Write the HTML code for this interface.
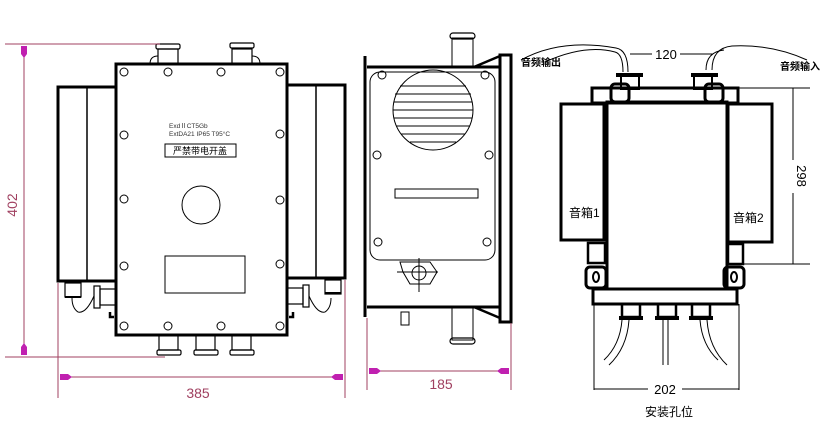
<!DOCTYPE html>
<html><head><meta charset="utf-8"><style>
html,body{margin:0;padding:0;background:#fff;width:828px;height:424px;overflow:hidden}
text{font-family:"Liberation Sans","Noto Sans CJK SC",sans-serif}
</style></head><body>
<svg width="828" height="424" viewBox="0 0 828 424" xmlns="http://www.w3.org/2000/svg">
<g fill="none" stroke="#000">
<!-- FRONT VIEW -->
<rect x="158" y="49" width="20" height="15" stroke-width="1.2"/><rect x="156" y="44" width="24" height="5" rx="1.5" stroke-width="1.2"/>
<path d="M158,56 q-8,0 -8,8" stroke-width="1"/>
<rect x="232" y="49" width="20" height="15" stroke-width="1.2"/><rect x="230" y="43" width="24" height="5" rx="1.5" stroke-width="1.2"/>
<path d="M252,56 q8,0 8,8" stroke-width="1"/>
<rect x="58" y="87" width="58" height="194" stroke-width="3"/><line x1="87" y1="87" x2="87" y2="281" stroke-width="1.5"/>
<rect x="287" y="85" width="58" height="193" stroke-width="3"/><line x1="316" y1="85" x2="316" y2="278" stroke-width="1.5"/>
<rect x="65" y="283" width="16" height="14" stroke-width="1.2"/><line x1="65" y1="297" x2="81" y2="297" stroke-width="2"/>
<rect x="325" y="280" width="16" height="14" stroke-width="1.2"/><line x1="325" y1="293" x2="341" y2="293" stroke-width="2"/>
<rect x="100" y="289" width="16" height="16" stroke-width="1.2"/><rect x="94" y="286" width="6" height="22" stroke-width="1.2"/>
<path d="M94,296 q-8,18 -16,16 q-6,-4 -6,-14" stroke-width="1"/>
<rect x="287" y="288" width="16" height="16" stroke-width="1.2"/><rect x="303" y="285" width="6" height="22" stroke-width="1.2"/>
<path d="M309,296 q8,18 16,16 q6,-4 6,-14" stroke-width="1"/>
<path d="M110,312 v5 h4" stroke-width="2.5"/><path d="M293,312 v5 h-4" stroke-width="2.5"/>
<rect x="116" y="64" width="171" height="271" stroke-width="3"/>
<g stroke-width="1">
<circle cx="124" cy="72" r="4"/><circle cx="168" cy="72" r="4"/><circle cx="221" cy="72" r="4"/><circle cx="280" cy="72" r="4"/>
<circle cx="124" cy="135" r="4"/><circle cx="280" cy="134" r="4"/>
<circle cx="124" cy="199" r="4"/><circle cx="280" cy="200" r="4"/>
<circle cx="124" cy="266" r="4"/><circle cx="280" cy="264" r="4"/>
<circle cx="124" cy="326" r="4"/><circle cx="168" cy="326" r="4"/><circle cx="221" cy="326" r="4"/><circle cx="280" cy="326" r="4"/>
<circle cx="201" cy="205" r="19"/>
<rect x="165" y="256" width="80" height="37"/>
<rect x="165" y="144" width="71" height="13"/>
</g>
<g stroke-width="1.2">
<rect x="159" y="335" width="19" height="15"/><rect x="157" y="350" width="24" height="5" rx="1.5"/>
<rect x="196" y="335" width="19" height="15"/><rect x="194" y="350" width="24" height="5" rx="1.5"/>
<rect x="232" y="335" width="19" height="15"/><rect x="230" y="350" width="24" height="5" rx="1.5"/>
</g>

<!-- SIDE VIEW -->
<rect x="452" y="38" width="21" height="29" stroke-width="1"/><rect x="450" y="33" width="25" height="6" rx="3" stroke-width="1.2"/>
<rect x="452" y="307" width="21" height="33" stroke-width="1"/><rect x="450" y="338" width="25" height="6" rx="3" stroke-width="1.2"/>
<line x1="365" y1="56" x2="365" y2="317" stroke-width="3"/>
<line x1="367" y1="67" x2="500" y2="67" stroke-width="3"/>
<line x1="367" y1="307" x2="500" y2="307" stroke-width="3"/>
<path d="M474,67 L500,56 M474,307 L500,318" stroke-width="2.5"/>
<rect x="500" y="55" width="11" height="267" stroke-width="3"/>
<rect x="370" y="72" width="125" height="188" rx="10" stroke-width="1"/>
<g stroke-width="1">
<circle cx="382" cy="75" r="4"/><circle cx="485" cy="75" r="4"/><circle cx="377" cy="155" r="4"/><circle cx="489" cy="155" r="4"/><circle cx="378" cy="242" r="4"/><circle cx="487" cy="242" r="4"/>
<circle cx="433" cy="110" r="40"/>
<line x1="400" y1="86" x2="466" y2="86"/><line x1="395" y1="94" x2="471" y2="94"/><line x1="394" y1="102" x2="472" y2="102"/><line x1="393" y1="110" x2="473" y2="110"/><line x1="394" y1="118" x2="472" y2="118"/><line x1="396" y1="126" x2="470" y2="126"/><line x1="401" y1="134" x2="465" y2="134"/><line x1="410" y1="142" x2="456" y2="142"/>
<rect x="395" y="189" width="83" height="9"/>
<path d="M400,262 h30 l7,10 l-7,12 h-20 l-7,-12 z"/><circle cx="419" cy="273" r="7"/>
<line x1="397" y1="272" x2="438" y2="272"/><line x1="419" y1="258" x2="419" y2="292"/>
<rect x="401" y="312" width="8" height="13"/>
</g>

<!-- RIGHT VIEW -->
<g stroke-width="1">
<path d="M521,60 q40,-22 95,-12 q12,2 12,24"/><path d="M545,62 q40,-18 70,-10 q8,2 8,20"/>
<path d="M712,70 q0,-22 20,-24 q40,-2 75,14"/><path d="M706,70 q0,-18 18,-20"/>
<path d="M622,320 q-2,25 -18,40"/><path d="M629,320 q-2,28 -20,45"/>
<line x1="663" y1="320" x2="663" y2="365"/><line x1="668" y1="320" x2="668" y2="365"/>
<path d="M700,320 q2,25 18,40"/><path d="M707,320 q2,28 20,45"/>
</g>
<g stroke-width="3">
<rect x="592" y="88" width="146" height="15"/>
<rect x="561" y="104" width="43" height="136"/>
<rect x="728" y="104" width="44" height="138"/>
<rect x="607" y="102" width="120" height="187"/>
<rect x="593" y="289" width="144" height="15"/>
<rect x="611" y="84" width="18" height="18" rx="4"/><rect x="705" y="84" width="18" height="18" rx="4"/>
<rect x="621" y="75" width="18" height="14" stroke-width="2"/><rect x="694" y="75" width="18" height="14" stroke-width="2"/>
<line x1="616" y1="75" x2="643" y2="75" stroke-width="4"/><line x1="691" y1="75" x2="718" y2="75" stroke-width="4"/>
<rect x="586" y="267" width="20" height="21" rx="4"/><rect x="724" y="267" width="20" height="21" rx="4"/>
<rect x="588" y="243" width="17" height="20" stroke-width="2.5"/><rect x="728" y="244" width="15" height="20" stroke-width="2.5"/>
<rect x="622" y="304" width="18" height="13" stroke-width="2.5"/><rect x="658" y="304" width="18" height="13" stroke-width="2.5"/><rect x="692" y="304" width="18" height="13" stroke-width="2.5"/>
<line x1="619" y1="318" x2="643" y2="318" stroke-width="4"/><line x1="655" y1="318" x2="679" y2="318" stroke-width="4"/><line x1="689" y1="318" x2="713" y2="318" stroke-width="4"/>
</g>
<ellipse cx="596" cy="277" rx="3" ry="5" stroke-width="2"/><ellipse cx="734" cy="277" rx="3" ry="5" stroke-width="2"/>
<g stroke-width="1">
<line x1="738" y1="88" x2="810" y2="88"/><line x1="740" y1="264" x2="810" y2="264"/>
<line x1="793" y1="88" x2="793" y2="160"/><line x1="793" y1="193" x2="793" y2="264"/>
<line x1="594" y1="304" x2="594" y2="390"/><line x1="739" y1="304" x2="739" y2="390"/>
<line x1="594" y1="389" x2="648" y2="389"/><line x1="682" y1="389" x2="739" y2="389"/>
<line x1="630" y1="54" x2="652" y2="54"/><line x1="680" y1="54" x2="712" y2="54"/>
</g>
</g>

<g stroke="#a04060" stroke-width="1" fill="none">
<line x1="5" y1="44" x2="160" y2="44"/><line x1="5" y1="357" x2="165" y2="357"/>
<line x1="24" y1="46" x2="24" y2="355"/>
<line x1="58" y1="283" x2="58" y2="398"/><line x1="345" y1="280" x2="345" y2="398"/>
<line x1="60" y1="377" x2="343" y2="377"/>
<line x1="367" y1="318" x2="367" y2="390"/><line x1="511" y1="323" x2="511" y2="390"/>
<line x1="369" y1="371" x2="509" y2="371"/>
</g>
<g fill="#c020b0">
<path d="M21,46 h6 v8 l-3,4 l-3,-4 z"/><path d="M21,355 h6 v-8 l-3,-4 l-3,4 z"/>
<path d="M60,374 v6 h8 l4,-3 l-4,-3 z"/><path d="M343,374 v6 h-8 l-4,-3 l4,-3 z"/>
<path d="M369,368 v6 h8 l4,-3 l-4,-3 z"/><path d="M509,368 v6 h-8 l-4,-3 l4,-3 z"/>
</g>
<g fill="#a04060" font-size="14">
<text x="17" y="205" transform="rotate(-90 17 205)" text-anchor="middle">402</text>
<text x="198" y="398" text-anchor="middle">385</text>
<text x="441" y="389" text-anchor="middle">185</text>
</g>
<g fill="#000">
<text x="169" y="128" font-size="6.5" fill="#333">ExdⅡCT5Gb</text>
<text x="169" y="136" font-size="6.5" fill="#333">ExtDA21 IP65 T95°C</text>
<text x="200" y="154" font-size="9" text-anchor="middle">严禁带电开盖</text>
<text x="666" y="59" font-size="13" text-anchor="middle">120</text>
<text x="521" y="66" font-size="10" font-weight="bold">音频输出</text>
<text x="780" y="70" font-size="10" font-weight="bold">音频输入</text>
<text x="569" y="217" font-size="12">音箱1</text>
<text x="733" y="222" font-size="12">音箱2</text>
<text x="797" y="176" font-size="13" transform="rotate(90 797 176)" text-anchor="middle">298</text>
<text x="665" y="394" font-size="13" text-anchor="middle">202</text>
<text x="669" y="416" font-size="12" text-anchor="middle">安装孔位</text>
</g>
</svg>
</body></html>
